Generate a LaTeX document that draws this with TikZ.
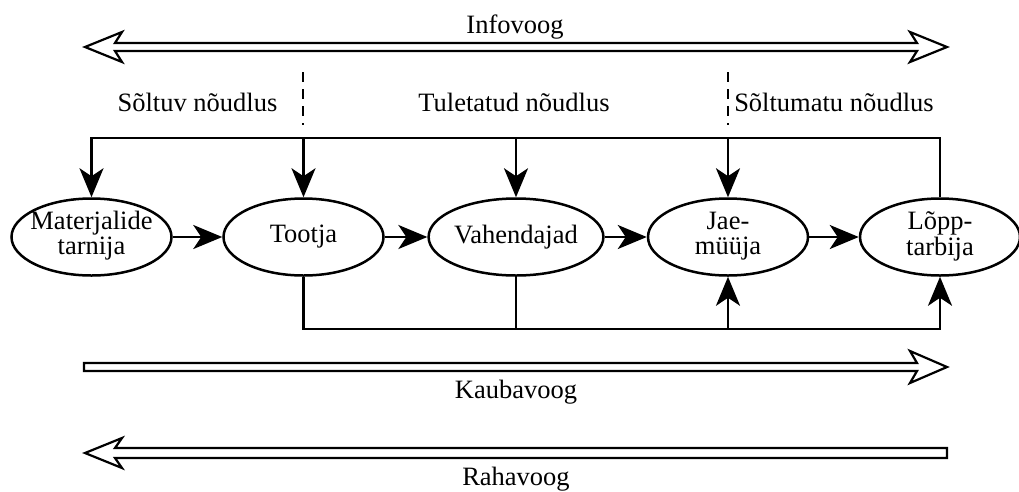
\documentclass[tikz,border=0pt]{standalone}
\usepackage{fontspec}
\setmainfont{Liberation Serif}
\usetikzlibrary{shapes.geometric,arrows.meta}
\newcommand{\twoline}[2]{\makebox[0pt]{\begin{tabular}{@{}c@{}}#1\\#2\end{tabular}}}
\begin{document}
\begin{tikzpicture}[x=1pt,y=-1pt,
  every node/.style={font=\fontsize{26.5}{25}\selectfont},
  ebox/.style={ellipse,draw,line width=2.5pt,minimum width=160pt,minimum height=77pt,inner sep=0pt},
  conn/.style={line width=2.7pt},
  arr/.style={conn,-{Stealth[length=29pt,width=24pt,inset=8pt]}},
  flow/.style={draw,line width=2.2pt,fill=white,line join=miter},
  cut/.style={line width=2pt,dash pattern=on 10pt off 7pt},
  lbl/.style={anchor=base,inner sep=0pt}]
\useasboundingbox (0,0) rectangle (1019,491);

% flow arrows
\draw[flow] (85,47) -- (122,32) -- (115,43) -- (917,43) -- (910,32) -- (947,47)
  -- (910,62) -- (917,51) -- (115,51) -- (122,62) -- cycle;
\draw[flow] (84,363) -- (917,363) -- (910,351) -- (947,367) -- (910,383)
  -- (917,371) -- (84,371) -- cycle;
\draw[flow] (85,453) -- (122,438) -- (115,448) -- (947,448) -- (947,458)
  -- (115,458) -- (122,468) -- cycle;

\node[lbl] (info) at (515,33) {Infovoog};
\node[lbl] (kaup) at (516,398) {Kaubavoog};
\node[lbl] (raha) at (516,485) {Rahavoog};

% demand labels and separators
\node[lbl] (dep) at (197.5,111) {Sõltuv nõudlus};
\node[lbl] (der) at (514,111) {Tuletatud nõudlus};
\node[lbl] (ind) at (834,111) {Sõltumatu nõudlus};
\coordinate (c1a) at (303,72);
\coordinate (c1b) at (303,125);
\coordinate (c2a) at (728,72);
\coordinate (c2b) at (728,125);
\draw[cut] (c1a) -- (c1b);
\draw[cut] (c2a) -- (c2b);

% chain
\node[ebox] (m) at (91.5,237) {\twoline{Materjalide}{tarnija}};
\node[ebox] (t) at (303.5,237) {Tootja};
\node[ebox] (v) at (516,237) {Vahendajad};
\node[ebox] (j) at (728,237) {\twoline{Jae-}{müüja}};
\node[ebox] (l) at (940,237) {\twoline{Lõpp-}{tarbija}};

\draw[arr] (m) -- (t);
\draw[arr] (t) -- (v);
\draw[arr] (v) -- (j);
\draw[arr] (j) -- (l);

% information feedback (top)
\coordinate (top) at (0,138);
\draw[arr] (l.north) -- (l.north |- top) -- (m.north |- top) -- (m.north);
\draw[arr] (t.north |- top) -- (t.north);
\draw[arr] (v.north |- top) -- (v.north);
\draw[arr] (j.north |- top) -- (j.north);

% goods distribution (bottom)
\coordinate (bot) at (0,329);
\draw[arr] (t.south) -- (t.south |- bot) -- (l.south |- bot) -- (l.south);
\draw[conn] (v.south) -- (v.south |- bot);
\draw[arr] (j.south |- bot) -- (j.south);
\end{tikzpicture}
\end{document}
